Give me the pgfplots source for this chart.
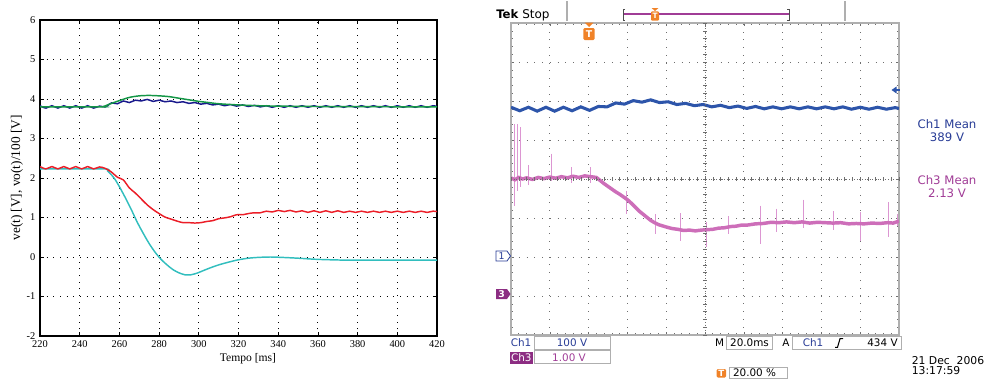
\documentclass[border=0pt]{standalone}
\usepackage{pgfplots}
\pgfplotsset{compat=1.18}
\usepackage{fontspec}
\setmainfont{Liberation Serif}
\newfontfamily\tekfont{DejaVu Sans}
\definecolor{mgreen}{RGB}{20,150,70}
\definecolor{mblue}{RGB}{25,25,140}
\definecolor{mred}{RGB}{235,30,40}
\definecolor{mcyan}{RGB}{50,190,190}
\definecolor{tblue}{RGB}{45,85,170}
\definecolor{ttext}{RGB}{40,60,150}
\definecolor{tpink}{RGB}{205,110,185}
\definecolor{tpinkl}{RGB}{220,150,210}
\definecolor{tpurple}{RGB}{160,60,150}
\definecolor{tpurpled}{RGB}{140,45,130}
\definecolor{torange}{RGB}{240,130,40}
\definecolor{tgrid}{RGB}{110,110,110}
\definecolor{tborder}{RGB}{175,175,175}
\begin{document}
\begin{tikzpicture}
\useasboundingbox (0,0) rectangle (743.25pt,-284.25pt);
% ---------------- left: simulation ----------------
\begin{axis}[at={(30pt,-252pt)}, anchor=south west, scale only axis,
  width=297.75pt, height=237pt,
  xmin=220, xmax=420, ymin=-2, ymax=6,
  xtick={220,240,...,420}, ytick={-2,-1,...,6},
  tick align=inside, major tick length=3pt,
  grid=major, grid style={black, line width=0.7pt, dash pattern=on 0.7pt off 4.3pt},
  axis line style={line width=0.8pt}, tick style={black, line width=0.6pt},
  ticklabel style={font=\fontsize{7.8}{9}\selectfont},
  /pgf/number format/assume math mode=true]
\addplot[mcyan, line width=1.1pt, smooth] coordinates {
(220,2.23)(252,2.23)(254,2.18)(256,2.08)(258,1.95)(260,1.78)(263,1.50)(266,1.20)(269,0.88)(272,0.60)(275,0.34)(278,0.12)(281,-0.06)(284,-0.20)(287,-0.32)(290,-0.40)(293,-0.45)(296,-0.45)(299,-0.41)(302,-0.35)(306,-0.27)(310,-0.20)(315,-0.13)(320,-0.07)(325,-0.03)(330,-0.01)(336,0.00)(342,-0.01)(350,-0.03)(360,-0.06)(375,-0.08)(390,-0.08)(420,-0.08)};
\addplot[mred, line width=1.1pt, smooth] coordinates {
(220,2.29)(223,2.23)(226,2.29)(229,2.23)(232,2.29)(235,2.23)(238,2.29)(241,2.23)(244,2.29)(247,2.23)(250,2.28)(253,2.24)(256,2.15)(259,2.02)(262,1.95)(265,1.75)(268,1.62)(271,1.47)(274,1.32)(277,1.20)(280,1.10)(283,1.01)(286,0.96)(289,0.91)(292,0.87)(295,0.87)(298,0.86)(301,0.87)(304,0.90)(307,0.92)(310,0.97)(313,0.99)(316,1.02)(319,1.07)(322,1.07)(325,1.10)(328,1.12)(331,1.12)(334,1.16)(337,1.14)(340,1.18)(343,1.15)(346,1.18)(349,1.14)(352,1.17)(355,1.13)(358,1.17)(361,1.13)(364,1.17)(367,1.13)(370,1.17)(373,1.13)(376,1.16)(379,1.13)(382,1.16)(385,1.13)(388,1.16)(391,1.13)(394,1.16)(397,1.13)(400,1.16)(403,1.13)(406,1.16)(409,1.13)(412,1.16)(415,1.13)(418,1.16)(420,1.15)};
\addplot[mblue, line width=1.1pt, smooth] coordinates {
(220,3.83)(223,3.77)(226,3.83)(229,3.77)(232,3.83)(235,3.77)(238,3.83)(241,3.77)(244,3.83)(247,3.77)(250,3.82)(253,3.80)(256,3.90)(259,3.88)(262,3.95)(265,3.91)(268,3.97)(271,3.95)(274,3.99)(277,3.94)(280,3.97)(283,3.93)(286,3.95)(289,3.91)(292,3.93)(295,3.89)(298,3.91)(301,3.87)(304,3.89)(307,3.85)(310,3.87)(313,3.83)(316,3.86)(319,3.82)(322,3.85)(325,3.81)(328,3.84)(331,3.80)(334,3.83)(337,3.79)(340,3.83)(343,3.79)(346,3.83)(349,3.79)(352,3.83)(355,3.79)(358,3.83)(361,3.79)(364,3.83)(367,3.79)(370,3.83)(373,3.79)(376,3.83)(379,3.79)(382,3.83)(385,3.79)(388,3.83)(391,3.79)(394,3.83)(397,3.79)(400,3.83)(403,3.79)(406,3.83)(409,3.79)(412,3.83)(415,3.79)(418,3.83)(420,3.81)};
\addplot[mgreen, line width=1.1pt, smooth] coordinates {
(220,3.80)(250,3.80)(252,3.81)(255,3.87)(260,3.96)(265,4.04)(270,4.08)(275,4.09)(280,4.08)(285,4.06)(290,4.02)(295,3.98)(300,3.94)(305,3.91)(310,3.88)(320,3.85)(330,3.83)(340,3.82)(360,3.81)(420,3.80)};
\end{axis}
% ---------------- right: oscilloscope ----------------
\begin{axis}[at={(383.25pt,-251.25pt)}, anchor=south west, scale only axis,
  width=291pt, height=234pt,
  xmin=0, xmax=10, ymin=-4, ymax=4,
  xtick={0,...,10}, ytick={-4,...,4}, xticklabels={}, yticklabels={},
  minor tick num=4, tick align=inside, major tick length=2.5pt, minor tick length=1.6pt,
  tick style={tgrid, line width=0.45pt},
  grid=major, grid style={tgrid, line width=0.55pt, dash pattern=on 0.55pt off 5.27pt},
  axis line style={tborder, line width=0.9pt},
  unbounded coords=jump]
\addplot[tblue, line width=2.3pt] coordinates {
(0.000,1.84)(0.225,1.75)(0.450,1.84)(0.675,1.74)(0.900,1.84)(1.125,1.74)(1.350,1.84)(1.575,1.75)(1.800,1.85)(2.025,1.76)(2.250,1.86)(2.475,1.85)(2.700,1.95)(2.925,1.92)(3.150,2.01)(3.375,1.97)(3.600,2.03)(3.825,1.96)(4.050,1.98)(4.275,1.91)(4.500,1.94)(4.725,1.88)(4.950,1.91)(5.175,1.85)(5.400,1.89)(5.625,1.83)(5.850,1.87)(6.075,1.81)(6.300,1.86)(6.525,1.80)(6.750,1.85)(6.975,1.80)(7.200,1.85)(7.425,1.80)(7.650,1.85)(7.875,1.80)(8.100,1.85)(8.325,1.80)(8.550,1.85)(8.775,1.79)(9.000,1.84)(9.225,1.79)(9.450,1.84)(9.675,1.79)(9.900,1.83)(10.00,1.81)};
\addplot[tpinkl, line width=0.6pt] coordinates {
(0.08,1.40)(0.08,-0.68)(0.08,nan)(0.16,1.40)(0.16,-0.30)(0.16,nan)(0.25,1.33)(0.25,-0.20)(0.25,nan)(0.45,0.35)(0.45,-0.15)(0.45,nan)(1.05,0.65)(1.05,-0.05)(1.05,nan)(1.55,0.30)(1.55,-0.10)(1.55,nan)(2.04,0.30)(2.04,-0.10)(2.04,nan)(2.98,-0.30)(2.98,-0.89)(2.98,nan)(3.71,-0.90)(3.71,-1.40)(3.71,nan)(4.36,-0.88)(4.36,-1.58)(4.36,nan)(5.04,-1.10)(5.04,-1.75)(5.04,nan)(5.60,-0.95)(5.60,-1.40)(5.60,nan)(6.42,-0.68)(6.42,-1.66)(6.42,nan)(6.85,-0.76)(6.85,-1.35)(6.85,nan)(7.53,-0.53)(7.53,-1.25)(7.53,nan)(8.31,-0.83)(8.31,-1.30)(8.31,nan)(9.00,-0.85)(9.00,-1.58)(9.00,nan)(9.72,-0.59)(9.72,-1.49)(9.72,nan)(9.97,-0.90)(9.97,-1.20)};
\addplot[tpink, line width=2.6pt] coordinates {
(0.00,0.03)(0.10,-0.02)(0.20,0.04)(0.30,0.00)(0.40,0.03)(0.55,-0.01)(0.70,0.04)(0.85,0.01)(1.00,0.05)(1.15,0.02)(1.30,0.06)(1.45,0.03)(1.60,0.07)(1.75,0.04)(1.90,0.08)(2.05,0.06)(2.20,0.04)(2.30,-0.04)(2.40,-0.12)(2.50,-0.19)(2.60,-0.26)(2.70,-0.33)(2.80,-0.39)(2.90,-0.46)(3.00,-0.53)(3.10,-0.62)(3.20,-0.72)(3.30,-0.82)(3.40,-0.90)(3.50,-0.98)(3.60,-1.06)(3.70,-1.12)(3.80,-1.17)(3.90,-1.20)(4.00,-1.23)(4.15,-1.27)(4.30,-1.29)(4.45,-1.32)(4.60,-1.31)(4.75,-1.33)(4.90,-1.31)(5.05,-1.30)(5.20,-1.29)(5.35,-1.26)(5.50,-1.25)(5.65,-1.22)(5.80,-1.21)(5.95,-1.18)(6.10,-1.18)(6.30,-1.15)(6.50,-1.14)(6.70,-1.11)(6.90,-1.12)(7.10,-1.10)(7.30,-1.12)(7.50,-1.10)(7.70,-1.13)(7.90,-1.11)(8.10,-1.12)(8.30,-1.13)(8.50,-1.12)(8.70,-1.15)(8.90,-1.14)(9.10,-1.15)(9.30,-1.13)(9.50,-1.14)(9.70,-1.12)(9.85,-1.13)(10.00,-1.08)};
\end{axis}
% ---------------- annotations (pixel coordinates) ----------------
\begin{scope}[x=0.75pt, y=-0.75pt]
% left labels
\node[rotate=90, font=\fontsize{10}{12}\selectfont] at (17,178) {ve(t) [V], vo(t)/100 [V]};
\node[font=\fontsize{8.7}{10}\selectfont] at (248,359) {Tempo [ms]};
% scope centre lines
\draw[tgrid, line width=0.5pt, dash pattern=on 0.5pt off 1.45pt] (705,23) -- (705,335);
\draw[tgrid, line width=0.5pt, dash pattern=on 0.5pt off 1.45pt] (511,179) -- (899,179);
\foreach \k in {0,...,50} {\draw[tgrid, line width=0.4pt] ({511+7.76*\k},177) -- ({511+7.76*\k},181);}
\foreach \k in {0,...,40} {\draw[tgrid, line width=0.4pt] (703,{23+7.8*\k}) -- (707,{23+7.8*\k});}
% top bar
\node[anchor=base west, inner sep=0pt, font=\tekfont\bfseries\fontsize{8.8}{10}\selectfont] at (496,18.5) {Tek};
\node[anchor=base west, inner sep=0pt, font=\tekfont\fontsize{9}{10}\selectfont] at (522,18.5) {Stop};
\draw[tborder, line width=0.8pt] (567,1) -- (567,21);
\draw[tborder, line width=0.8pt] (845,1) -- (845,21);
\draw[tpurple, line width=0.8pt] (623,14) -- (789,14);
\draw[black!70, line width=0.6pt] (625,9) -- (623,9) -- (623,20) -- (625,20);
\draw[black!70, line width=0.6pt] (787,9) -- (789,9) -- (789,20) -- (787,20);
\fill[torange] (651.5,8) -- (658.5,8) -- (655,11) -- cycle;
\node[fill=torange, text=white, rounded corners=0.8pt, inner sep=0pt, minimum width=6pt, minimum height=7pt, font=\tekfont\bfseries\fontsize{5.5}{6}\selectfont] at (655,16) {T};
% trigger position marker
\fill[torange] (584.5,22.5) -- (593.5,22.5) -- (589,27) -- cycle;
\node[fill=torange, text=white, rounded corners=1pt, inner sep=0pt, minimum width=8.5pt, minimum height=9pt, font=\tekfont\bfseries\fontsize{7}{7}\selectfont] at (589,34) {T};
% trigger level arrow
\fill[tblue] (891.5,90) -- (896.5,86.5) -- (896.5,93.5) -- cycle;
\draw[tblue, line width=0.8pt] (895,90) -- (899.5,90);
% channel ground markers
\draw[ttext, fill=white, line width=0.6pt] (496,251) -- (507,251) -- (510.5,256) -- (507,261) -- (496,261) -- cycle;
\node[ttext, inner sep=0pt, font=\tekfont\fontsize{7}{7}\selectfont] at (501.5,256) {1};
\fill[tpurpled] (496,289) -- (507,289) -- (510.5,294) -- (507,299) -- (496,299) -- cycle;
\node[white, inner sep=0pt, font=\tekfont\bfseries\fontsize{7}{7}\selectfont] at (501.5,294) {3};
% right readouts
\begin{scope}[every node/.style={font=\tekfont\fontsize{8.8}{10}\selectfont, inner sep=0pt}]
\node[ttext] at (947,124) {Ch1 Mean};
\node[ttext] at (947,137) {389 V};
\node[tpurple] at (947,180) {Ch3 Mean};
\node[tpurple] at (947,193) {2.13 V};
\end{scope}
% bottom readouts
\begin{scope}[every node/.style={font=\tekfont\fontsize{7.8}{9}\selectfont, inner sep=0pt}]
\node[ttext, anchor=west] at (510.5,343) {Ch1};
\draw[tborder, line width=0.6pt] (534.5,336) rectangle (610,349.5);
\node[ttext] at (572,343) {100 V};
\fill[tpurpled] (509.5,351.5) rectangle (533,363.5);
\node[white] at (521.3,357.5) {Ch3};
\draw[tborder, line width=0.6pt] (534.5,350.7) rectangle (610,363.5);
\node[tpurple] at (569,357.3) {1.00 V};
\node[black] at (719.5,343) {M};
\draw[tborder, line width=0.6pt] (726,336) rectangle (772.7,349.5);
\node[black] at (749.5,343) {20.0ms};
\node[black] at (786,343) {A};
\draw[tborder, line width=0.6pt] (792.7,336) rectangle (901.5,349.5);
\node[ttext] at (813,343) {Ch1};
\draw[black, line width=0.8pt] (835,347.3) -- (837.5,347.3) -- (840,338.7) -- (843,338.7);
\node[black] at (882.5,343) {434 V};
\fill[torange, rounded corners=0.8pt] (716.7,369) rectangle (726,377.5);
\node[white, font=\tekfont\bfseries\fontsize{6.5}{7}\selectfont] at (721.3,373.2) {T};
\draw[tborder, line width=0.6pt] (729,367) rectangle (787,378.8);
\node[black] at (754.5,373) {20.00 \%};
\node[black, anchor=west, font=\tekfont\fontsize{8.1}{9}\selectfont] at (911.5,360.3) {21 Dec\ \ 2006};
\node[black, anchor=west, font=\tekfont\fontsize{8.1}{9}\selectfont] at (911.5,370.5) {13:17:59};
\end{scope}
\end{scope}
\end{tikzpicture}
\end{document}
